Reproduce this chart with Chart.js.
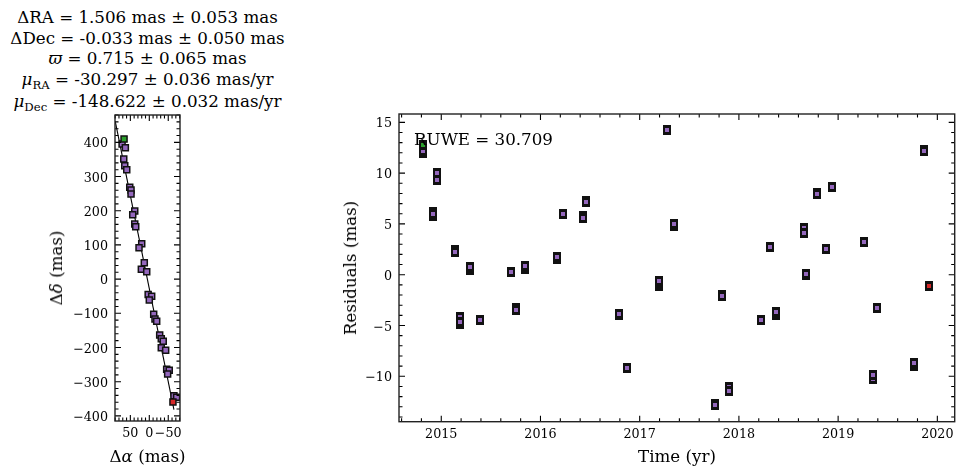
<!DOCTYPE html>
<html>
<head>
<meta charset="utf-8">
<script src="https://cdn.jsdelivr.net/npm/chart.js@4.4.1/dist/chart.umd.min.js"></script>
<style>
  body { margin: 0; background: #fff; }
  #wrap { position: relative; width: 964px; height: 476px; overflow: hidden; font-family: 'DejaVu Serif', serif; color: #000; }
  canvas { position: absolute; top: 0; }
  .t { position: absolute; left: 0; width: 295px; text-align: center; font-size: 16.7px; line-height: 20px; white-space: nowrap; }
  .lbl { position: absolute; font-size: 16.7px; line-height: 20px; white-space: nowrap; }
  sub { font-size: 70%; line-height: 0; vertical-align: -0.3em; }
</style>
</head>
<body>
<div id="wrap">
  <div class="t" style="top:7px">ΔRA = 1.506 mas ± 0.053 mas</div>
  <div class="t" style="top:28px">ΔDec = -0.033 mas ± 0.050 mas</div>
  <div class="t" style="top:48px"><i>ϖ</i> = 0.715 ± 0.065 mas</div>
  <div class="t" style="top:69px"><i>μ</i><sub>RA</sub> = -30.297 ± 0.036 mas/yr</div>
  <div class="t" style="top:91px"><i>μ</i><sub>Dec</sub> = -148.622 ± 0.032 mas/yr</div>

  <canvas id="track" width="200" height="476" style="left:0"></canvas>
  <canvas id="resid" width="764" height="476" style="left:200px"></canvas>

  <div class="lbl" style="left:414px;top:128.5px">RUWE = 30.709</div>
  <div class="lbl" style="left:147.5px;top:446px;transform:translateX(-50%)">Δ<i>α</i> (mas)</div>
  <div class="lbl" style="left:56px;top:268px;transform:translate(-50%,-50%) rotate(-90deg)">Δ<i>δ</i> (mas)</div>
  <div class="lbl" style="left:677px;top:445.6px;transform:translateX(-50%)">Time (yr)</div>
  <div class="lbl" style="left:349.7px;top:268px;transform:translate(-50%,-50%) rotate(-90deg)">Residuals (mas)</div>
</div>

<script>
// Sky track (left panel), one entry per plotted observation, in time order (mas)
const trackRA  = [66.6, 71.8, 63.2, 67.4, 64.7, 59.5, 51.6, 48.2, 48.2, 38.4, 43.7, 38.4, 35.8, 20.0, 27.1, 13.2, 21.0, 6.8,
                  3.0, -6.3, 0.0, -11.6, -15.0, -19.5, -27.4, -31.6, -36.8, -31.6, -43.2, -45.8, -52.6, -48.4, -65.0, -72.1, -62.4];
const trackDec = [409.6, 395, 384, 351, 331.6, 320, 268.4, 260.5, 248.8, 199, 188.3, 161, 153, 103.5, 91.8, 48, 28.7, 21.6,
                  -45, -50.3, -61, -103, -116.7, -123.4, -163.5, -174.3, -181.9, -200.6, -208.2, -263.7, -266.7, -277.5, -341, -345.6, -359.4];

// Model track (straight line through the points)
const modelRA  = [90, -65];
const modelDec = [462, -382];

// Residuals (right panel): epoch times and the residuals observed at each epoch (mas)
const epochYear = [2014.816, 2014.916, 2014.956, 2015.138, 2015.185, 2015.289, 2015.39, 2015.703, 2015.75, 2015.841,
                   2016.166, 2016.227, 2016.428, 2016.459, 2016.792, 2016.872, 2017.192, 2017.275, 2017.341, 2017.759,
                   2017.83, 2017.9, 2018.223, 2018.313, 2018.374, 2018.656, 2018.676, 2018.787, 2018.875, 2018.935,
                   2019.261, 2019.349, 2019.394, 2019.767, 2019.863, 2019.916];
const epochResid = [
    [12.73, 12.0, 12.14], [5.75, 6.15, 6.0], [9.6, 9.3, 10.05], [2.45, 2.2], [-4.2, -4.85, -4.65],
    [0.42, 0.76], [-4.45], [0.28], [-3.3, -3.5], [0.6, 0.82],
    [1.57, 1.75], [5.93], [5.74, 5.6], [7.25, 7.12], [-4.0, -3.88],
    [-9.15], [-1.08, -0.9, -0.65], [14.27], [4.75, 4.95], [-12.7, -12.86],
    [-1.95, -2.13], [-11.1, -11.48], [-4.5], [2.74], [-3.98, -3.7],
    [4.55, 4.12], [-0.05, 0.05], [8.05, 7.92], [2.49], [8.6],
    [3.2], [-10.27, -9.9], [-3.25], [-8.96, -8.68], [12.27, 12.14],
    [-1.08]
];

// Axis ranges and tick steps
const trackX = { min: -81, max: 90.5, major: 50, minor: 10 };
const trackY = { min: -415, max: 480, major: 100, minor: 20 };
const residX = { min: 2014.574, max: 2020.175, major: 1, minor: 0.2 };
const residY = { min: -14.47, max: 15.82, major: 5, minor: 1 };

const PURPLE = '#9467bd';
const GREEN = '#2ca02c';
const RED = '#d62728';
const EDGE = '#111';

// Tick label formatting, matplotlib style minus sign
const fmtTick = v => {
    const r = Math.round(v);
    return r < 0 ? '\u2212' + Math.abs(r) : String(r);
};

// multiples of step inside [min, max]
function stepValues(min, max, step) {
    const out = [];
    const k0 = Math.ceil(min / step - 1e-6);
    const k1 = Math.floor(max / step + 1e-6);
    for (let k = k0; k <= k1; k++) out.push(k * step);
    return out;
}

// Frame and inward ticks on all four sides
const frameTicks = {
    id: 'frameTicks',
    beforeDatasetsDraw(chart) {
        chart.ctx.imageSmoothingEnabled = false;
    },
    afterDraw(chart, args, opts) {
        const { ctx, chartArea: a, scales: { x, y } } = chart;
        ctx.save();
        ctx.strokeStyle = '#000';
        ctx.lineWidth = 1.1;
        ctx.beginPath();
        const ticks = (scale, step, len, horiz) => {
            stepValues(scale.min, scale.max, step).forEach(v => {
                const p = scale.getPixelForValue(v);
                if (horiz) {
                    ctx.moveTo(p, a.bottom); ctx.lineTo(p, a.bottom - len);
                    ctx.moveTo(p, a.top); ctx.lineTo(p, a.top + len);
                } else {
                    ctx.moveTo(a.left, p); ctx.lineTo(a.left + len, p);
                    ctx.moveTo(a.right, p); ctx.lineTo(a.right - len, p);
                }
            });
        };
        ticks(x, opts.x.major, 6, true);
        ticks(x, opts.x.minor, 3.5, true);
        ticks(y, opts.y.major, 6, false);
        ticks(y, opts.y.minor, 3.5, false);
        ctx.stroke();
        ctx.strokeStyle = '#222';
        ctx.lineWidth = 1.4;
        ctx.strokeRect(a.left, a.top, a.right - a.left, a.bottom - a.top);
        ctx.restore();
    }
};

function axis(range, fitSize, horiz, padding, extra) {
    return Object.assign({
        type: 'linear',
        min: range.min,
        max: range.max,
        grid: { display: false, drawTicks: false },
        border: { display: false },
        afterFit: s => { if (horiz) s.height = fitSize; else s.width = fitSize; },
        afterBuildTicks: s => {
            s.ticks = stepValues(range.min, range.max, range.major).map(v => ({ value: v }));
        },
        ticks: {
            stepSize: range.major,
            includeBounds: false,
            autoSkip: false,
            maxRotation: 0,
            padding: padding,
            labelOffset: horiz ? 0 : 1.8,
            color: '#000',
            font: { family: 'DejaVu Serif', size: 12.7 },
            callback: fmtTick
        }
    }, extra || {});
}

// Residual marker: black box (marker edge + error bar) with a small coloured square
function makeMarker(fill) {
    const c = document.createElement('canvas');
    c.width = 8; c.height = 10;
    const g = c.getContext('2d');
    g.fillStyle = EDGE;
    g.fillRect(0, 0, 8, 10);
    g.fillStyle = fill;
    g.fillRect(2, 3, 4, 4);
    return c;
}

function initTrack() {
    const pts = trackRA.map((x, i) => ({ x: x, y: trackDec[i] }));
    const last = pts.length - 1;
    const sq = color => ({
        pointStyle: 'rect', pointRadius: 4.24, borderWidth: 1.5,
        backgroundColor: color, borderColor: EDGE, showLine: false, clip: 0
    });
    new Chart(document.getElementById('track'), {
        type: 'scatter',
        data: {
            datasets: [
                Object.assign({ data: [pts[last]] }, sq(RED)),
                Object.assign({ data: [pts[0]] }, sq(GREEN)),
                Object.assign({ data: pts.slice(1, last) }, sq(PURPLE)),
                {
                    data: modelRA.map((x, i) => ({ x: x, y: modelDec[i] })),
                    showLine: true, borderColor: '#000', borderWidth: 1.1,
                    pointRadius: 0, fill: false, clip: 0
                }
            ]
        },
        options: {
            responsive: false,
            animation: false,
            events: [],
            layout: { padding: { top: 115, right: 20, left: 0, bottom: 0 } },
            plugins: {
                legend: { display: false },
                tooltip: { enabled: false },
                frameTicks: { x: trackX, y: trackY }
            },
            scales: {
                x: axis(trackX, 55, true, 5, { reverse: true }),
                y: axis(trackY, 115, false, 7)
            }
        },
        plugins: [frameTicks]
    });
}

function initResid() {
    const pts = [];
    epochYear.forEach((t, i) => {
        epochResid[i].forEach(r => pts.push({ x: t, y: r }));
    });
    const last = pts.length - 1;
    const mk = (data, color) => ({
        data: data, pointStyle: makeMarker(color), pointRadius: 4, showLine: false
    });
    new Chart(document.getElementById('resid'), {
        type: 'scatter',
        data: {
            datasets: [
                mk([pts[last]], RED),
                mk([pts[0]], GREEN),
                mk(pts.slice(1, last), PURPLE)
            ]
        },
        options: {
            responsive: false,
            animation: false,
            events: [],
            layout: { padding: { top: 114, right: 9.3, left: 0, bottom: 0 } },
            plugins: {
                legend: { display: false },
                tooltip: { enabled: false },
                frameTicks: { x: residX, y: residY }
            },
            scales: {
                x: axis(residX, 54.3, true, 5),
                y: axis(residY, 199, false, 7)
            }
        },
        plugins: [frameTicks]
    });
}

initTrack();
initResid();
</script>
</body>
</html>
